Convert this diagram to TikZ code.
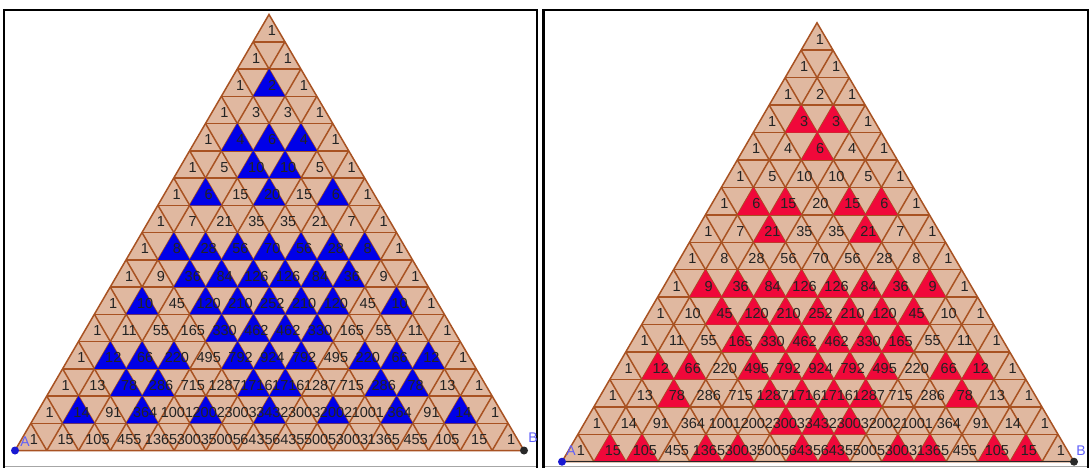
\documentclass[tikz,border=0pt]{standalone}
\usepackage{fontspec}
\setmainfont{Liberation Sans}
\definecolor{peach}{RGB}{224,184,160}
\definecolor{edgebrown}{RGB}{168,82,34}
\definecolor{evenblue}{RGB}{0,0,232}
\definecolor{tripred}{RGB}{240,8,58}
\definecolor{numgray}{RGB}{35,35,35}
\definecolor{ptblue}{RGB}{25,25,210}
\definecolor{lblblue}{RGB}{95,95,250}
\definecolor{ptdark}{RGB}{40,40,40}
% Pascal's triangle table
\expandafter\def\csname pas-0-0\endcsname{1}
\foreach \n in {1,...,15}{%
  \foreach \k in {0,...,\n}{%
    \pgfmathtruncatemacro\km{\k-1}%
    \pgfmathtruncatemacro\nm{\n-1}%
    \ifnum\k=0 \def\va{0}\else \edef\va{\csname pas-\nm-\km\endcsname}\fi
    \ifnum\k=\n \def\vb{0}\else \edef\vb{\csname pas-\nm-\k\endcsname}\fi
    \expandafter\xdef\csname pas-\n-\k\endcsname{\the\numexpr\va+\vb\relax}%
  }%
}
\tikzset{
  gridline/.style={draw=edgebrown, line width=1.5pt},
  num/.style={text=numgray, inner sep=0pt, font=\fontsize{14.5}{15}\selectfont},
  framebar/.style={draw=black, line width=2.2pt},
  framebase/.style={draw=gray!70, line width=1pt},
  ptlabel/.style={text=lblblue, inner sep=0pt, font=\fontsize{14}{15}\selectfont},
}
% #1 Ax, #2 base y, #3 Bx, #4 Cx, #5 Cy, #6 modulus, #7 colour, #8 prefix
\newcommand\drawpanel[8]{%
  \def\Ax{#1}\def\By{#2}\def\Bx{#3}\def\Cx{#4}\def\Cy{#5}%
  \coordinate (#8-A) at (#1,#2);
  \coordinate (#8-B) at (#3,#2);
  \coordinate (#8-C) at (#4,#5);
  \foreach \n in {0,...,16}{
    \foreach \k in {0,...,\n}{
      \coordinate (#8-g-\n-\k) at ({\Cx+(\n)/16*(\Ax-\Cx)+(\k)/16*(\Bx-\Ax)},{\Cy+(\n)/16*(\By-\Cy)});
    }
  }
  \fill[peach] (#8-A) -- (#8-B) -- (#8-C) -- cycle;
  \foreach \j in {1,...,15}{
    \pgfmathtruncatemacro\jj{16-\j}
    \draw[gridline] (#8-g-\j-0) -- (#8-g-\j-\j);
    \draw[gridline] (#8-g-\j-\j) -- (#8-g-16-\j);
    \draw[gridline] (#8-g-\j-0) -- (#8-g-16-\jj);
  }
  \draw[gridline, line join=miter] (#8-A) -- (#8-B) -- (#8-C) -- cycle;
  \foreach \n in {0,...,15}{
    \pgfmathtruncatemacro\np{\n+1}
    \foreach \k in {0,...,\n}{
      \pgfmathtruncatemacro\kp{\k+1}
      \edef\v{\csname pas-\n-\k\endcsname}
      \ifnum\numexpr\v-#6*(\v/#6)\relax=0
        \fill[#7] (#8-g-\n-\k) -- (#8-g-\np-\k) -- (#8-g-\np-\kp) -- cycle;
      \fi
      \node[num] (#8-\n-\k) at ({\Cx+(\n)/16*(\Ax-\Cx)+(\k)/16*(\Bx-\Ax)+3},{\Cy+(\n+0.6)/16*(\By-\Cy)}) {\csname pas-\n-\k\endcsname};
    }
  }
}
\begin{document}
\begin{tikzpicture}[x=1pt,y=-1pt]
\useasboundingbox (0,0) rectangle (1089,467);
\fill[white] (0,0) rectangle (1089,467);
% frames
\draw[framebase] (4,466) -- (537,466);
\draw[framebase] (543.5,466) -- (1088,466);
\draw[framebar] (4,470) -- (4,10) -- (537,10) -- (537,470);
\draw[framebar] (543.5,470) -- (543.5,10) -- (1088,10) -- (1088,470);
% left panel: even entries
\drawpanel{15}{450.5}{524}{269}{14.5}{2}{evenblue}{L}
% right panel: multiples of 3
\drawpanel{562}{461.7}{1074}{817}{22.8}{3}{tripred}{R}
\draw[draw=ptdark, line width=1.3pt] (R-A) -- (R-B);
% points A and B
\fill[ptblue] (L-A) circle[radius=4pt];
\fill[ptdark] (L-B) circle[radius=4pt];
\fill[ptblue] (R-A) circle[radius=4pt];
\fill[ptdark] (R-B) circle[radius=4pt];
\node[ptlabel] (L-Alabel) at (25,442) {A};
\node[ptlabel] (L-Blabel) at (533,438) {B};
\node[ptlabel] (R-Alabel) at (571,451) {A};
\node[ptlabel] (R-Blabel) at (1081,451) {B};
\end{tikzpicture}
\end{document}
